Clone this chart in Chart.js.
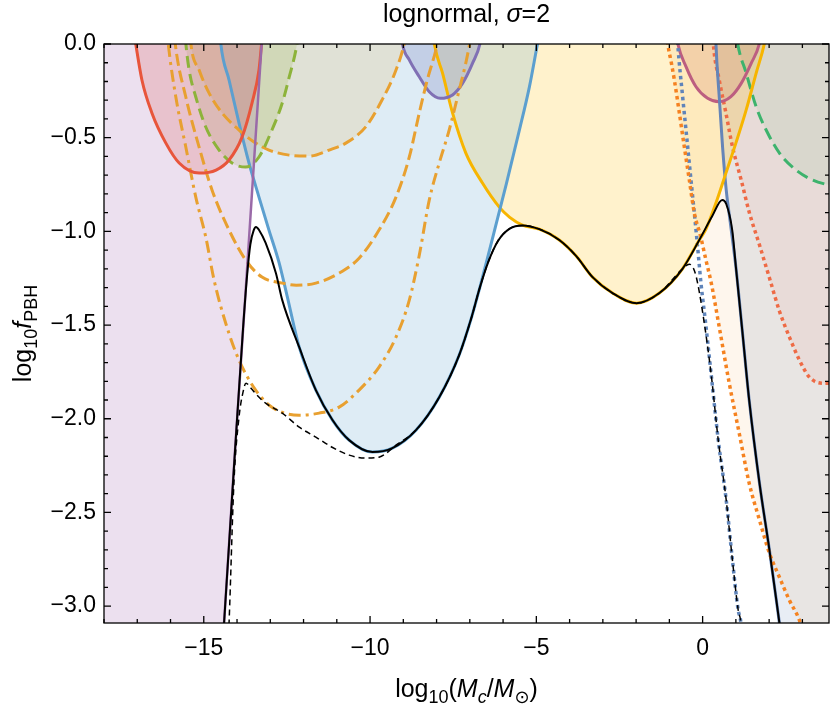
<!DOCTYPE html>
<html><head><meta charset="utf-8">
<script src="https://cdn.jsdelivr.net/npm/chart.js@4.4.1/dist/chart.umd.min.js"></script>
<style>html,body{margin:0;padding:0;background:#fff}#wrap{width:834px;height:709px}</style>
</head><body><div id="wrap"><canvas id="c" width="834" height="709"></canvas></div>
<script>
// ---- axes ----
const xMin = -18, xMax = 3.8, yMin = -3.09, yMax = 0;
const xMajorTicks = [-15, -10, -5, 0];
const xTickLabels = ['\u221215', '\u221210', '\u22125', '0'];
const yMajorTicks = [0, -0.5, -1, -1.5, -2, -2.5, -3];
const yTickLabels = ['0.0', '\u22120.5', '\u22121.0', '\u22121.5', '\u22122.0', '\u22122.5', '\u22123.0'];

// ---- curves (log10 Mc, log10 fPBH) ----
const blackX = [-14.42,-14.39,-14.06,-13.82,-13.7,-13.6,-13.5,-13.43,-13.33,-13.14,-12.83,-12.64,-12.13,-11.63,-11.13,-10.63,-9.93,-9.33,-8.62,-7.92,-7.32,-6.95,-6.7,-6.45,-6.15,-5.8,-5.42,-4.91,-4.31,-3.8,-3.31,-2.71,-1.99,-1.3,-0.61,-0.1,0.29,0.59,0.71,0.89,1.0,1.2,1.4,1.71,2.01,2.31,2.4];
const blackY = [-3.18,-3.09,-2.17,-1.52,-1.24,-1.07,-0.995,-0.977,-0.995,-1.062,-1.223,-1.367,-1.618,-1.847,-2.007,-2.114,-2.178,-2.157,-2.061,-1.885,-1.66,-1.46,-1.3,-1.165,-1.05,-0.985,-0.968,-0.988,-1.046,-1.132,-1.244,-1.329,-1.383,-1.329,-1.201,-1.046,-0.918,-0.833,-0.854,-0.993,-1.189,-1.543,-1.901,-2.344,-2.702,-3.091,-3.209];

const bdashX = [-14.27,-14.24,-14.09,-13.94,-13.82,-13.73,-13.58,-13.4,-13.14,-12.64,-12.13,-11.63,-11.14,-10.63,-10.13,-9.73,-9.22,-8.62,-7.92,-7.32,-6.95,-6.7,-6.45,-6.15,-5.8,-5.42,-4.91,-4.31,-3.8,-3.31,-2.71,-1.99,-1.3,-0.61,-0.4,-0.28,-0.19,-0.01,0.26,0.47,0.71,0.89,1.07,1.15,1.19];
const bdashY = [-3.209,-3.091,-2.328,-1.991,-1.858,-1.81,-1.837,-1.874,-1.917,-1.97,-2.045,-2.098,-2.152,-2.194,-2.21,-2.205,-2.141,-2.061,-1.885,-1.66,-1.46,-1.3,-1.165,-1.05,-0.985,-0.968,-0.988,-1.046,-1.132,-1.244,-1.329,-1.383,-1.329,-1.201,-1.175,-1.196,-1.244,-1.42,-1.767,-2.114,-2.435,-2.744,-3.022,-3.091,-3.209];

const lavX = [-18.6,-14.91,-14.39,-14.06,-13.76,-13.26,-13.1];
const lavY = [-40,-4.5,-3.09,-2.17,-1.37,0,0.45];

const redX = [-17.16,-17.05,-16.86,-16.56,-16.14,-15.74,-15.14,-14.63,-14.24,-13.85,-13.55,-13.34,-13.26,-13.19];
const redY = [0.128,0.005,-0.192,-0.368,-0.529,-0.635,-0.689,-0.673,-0.619,-0.497,-0.315,-0.139,0.005,0.128];

const greenLX = [-15.59,-15.54,-15.44,-15.24,-14.94,-14.54,-14.15,-13.74,-13.34,-12.95,-12.64,-12.43,-12.23,-12.13];
const greenLY = [0.128,0.005,-0.139,-0.283,-0.443,-0.566,-0.635,-0.657,-0.603,-0.459,-0.315,-0.176,-0.032,0.075];

const c1X = [-15.44,-15.39,-15.14,-14.84,-14.45,-13.94,-13.44,-13.04,-12.43,-11.83,-11.23,-10.73,-10.13,-9.64,-9.22,-8.97,-8.88];
const c1Y = [0.128,0.005,-0.139,-0.262,-0.368,-0.459,-0.529,-0.566,-0.593,-0.598,-0.566,-0.529,-0.442,-0.299,-0.139,0.005,0.101];

const c2X = [-15.92,-15.86,-15.54,-15.14,-14.75,-14.24,-13.74,-13.25,-12.64,-12.22,-11.63,-10.93,-10.33,-9.73,-9.22,-8.82,-8.52,-8.28,-8.02,-7.92];
const c2Y = [0.128,0.005,-0.283,-0.55,-0.78,-0.993,-1.153,-1.244,-1.276,-1.287,-1.276,-1.223,-1.143,-0.993,-0.817,-0.603,-0.368,-0.192,-0.032,0.048];

const c3X = [-16.13,-16.07,-15.84,-15.54,-15.24,-14.94,-14.69,-14.34,-13.94,-13.44,-12.95,-12.13,-11.53,-10.93,-10.33,-9.73,-9.22,-8.82,-8.52,-8.22,-7.92,-7.62,-7.32,-7.12,-7.0,-6.93];
const c3Y = [0.128,0.005,-0.283,-0.55,-0.817,-1.03,-1.26,-1.49,-1.687,-1.847,-1.938,-1.981,-1.97,-1.938,-1.847,-1.724,-1.564,-1.367,-1.127,-0.833,-0.635,-0.459,-0.246,-0.101,0.005,0.075];

const blueX = [-14.54,-14.49,-14.24,-13.94,-13.64,-13.34,-13.04,-12.74,-12.5,-12.13,-11.63,-11.13,-10.63,-9.93,-9.33,-8.62,-7.92,-7.32,-6.95,-6.7,-6.45,-6.2,-5.9,-5.51,-5.21,-4.96,-4.88];
const blueY = [0.128,0.005,-0.192,-0.422,-0.635,-0.817,-0.993,-1.164,-1.34,-1.618,-1.847,-2.007,-2.114,-2.178,-2.157,-2.061,-1.885,-1.66,-1.46,-1.3,-1.13,-0.955,-0.745,-0.46,-0.23,0.005,0.075];

const purpSX = [-9.09,-9.03,-8.82,-8.52,-8.22,-7.89,-7.52,-7.22,-6.92,-6.69,-6.63];
const purpSY = [0.101,0.005,-0.085,-0.175,-0.255,-0.29,-0.272,-0.21,-0.103,0.005,0.075];

const yellowX = [-8.13,-8.07,-7.82,-7.52,-7.12,-6.62,-6.12,-5.8,-5.42,-4.91,-4.31,-3.8,-3.31,-2.71,-1.99,-1.3,-0.61,-0.1,0.1,0.4,0.7,1.0,1.31,1.61,1.86,1.95];
const yellowY = [0.101,0.005,-0.156,-0.368,-0.582,-0.742,-0.869,-0.925,-0.966,-0.988,-1.046,-1.132,-1.244,-1.329,-1.383,-1.329,-1.201,-1.046,-0.988,-0.849,-0.689,-0.529,-0.352,-0.155,0.005,0.101];

const orDotX = [-1.12,-1.05,-0.94,-0.85,-0.7,-0.55,-0.4,-0.25,-0.07,0.1,0.26,0.5,0.8,1.1,1.4,1.71,2.01,2.31,2.61,2.91,3.09,4.6];
const orDotY = [0.128,0.005,-0.101,-0.192,-0.368,-0.55,-0.726,-0.902,-1.02,-1.153,-1.276,-1.511,-1.81,-2.077,-2.344,-2.541,-2.718,-2.846,-2.969,-3.075,-3.182,-3.8];

const blDotX = [-0.79,-0.75,-0.6,-0.5,-0.35,-0.25,-0.15,-0.05,0.08,0.26,0.47,0.71,0.89,1.07,1.15,1.19];
const blDotY = [0.128,0.005,-0.283,-0.459,-0.726,-0.902,-1.084,-1.276,-1.474,-1.767,-2.114,-2.435,-2.744,-3.022,-3.091,-3.209];

const steelX = [0.38,0.4,0.5,0.6,0.71,0.83,1.0,1.2,1.4,1.71,2.01,2.31,2.4,4.6];
const steelY = [0.128,0.005,-0.283,-0.55,-0.78,-0.95,-1.189,-1.543,-1.901,-2.344,-2.702,-3.091,-3.209,-4.0];

const mauveX = [-0.83,-0.75,-0.5,-0.2,0.15,0.5,0.85,1.16,1.46,1.71,1.8];
const mauveY = [0.101,0.005,-0.121,-0.228,-0.29,-0.308,-0.281,-0.21,-0.103,0.005,0.101];

const greenRX = [0.98,1.05,1.31,1.61,1.91,2.31,2.81,3.31,3.81,4.11];
const greenRY = [0.101,0.005,-0.156,-0.335,-0.459,-0.582,-0.673,-0.726,-0.753,-0.763];

const redDotX = [0.29,0.32,0.5,0.7,0.9,1.16,1.4,1.71,2.01,2.31,2.61,2.91,3.21,3.61,3.81,4.11];
const redDotY = [0.101,0.005,-0.192,-0.368,-0.55,-0.726,-0.897,-1.073,-1.249,-1.426,-1.564,-1.687,-1.778,-1.81,-1.81,-1.81];

// ---- text ----
const FONT = "'Liberation Sans', Arial, 'DejaVu Sans', sans-serif";
const titleParts = [{t:'lognormal, ', s:25}, {t:'\u03c3', s:25, it:true}, {t:'=2', s:25}];
const xTitleParts = [{t:'log', s:25}, {t:'10', s:18, dy:6}, {t:'(', s:25}, {t:'M', s:25, it:true}, {t:'c', s:18, it:true, dy:6}, {t:'/', s:25}, {t:'M', s:25, it:true}, {t:'\u2299', s:18, dy:6}, {t:')', s:25}];
const yTitleParts = [{t:'log', s:25}, {t:'10', s:18, dy:6}, {t:'f', s:25, it:true}, {t:'PBH', s:18, dy:6}];

const pts = (xs, ys) => xs.map((x, i) => ({x: x, y: ys[i]}));
function line(xs, ys, color, width, dash, fillColor, extra) {
  return Object.assign({
    data: pts(xs, ys), showLine: true, borderColor: color, borderWidth: width,
    borderDash: dash || [], borderCapStyle: 'butt', borderJoinStyle: 'round',
    pointRadius: 0, pointHoverRadius: 0, pointHitRadius: 0,
    fill: fillColor ? 'end' : false, backgroundColor: fillColor || 'transparent',
    cubicInterpolationMode: 'monotone'
  }, extra || {});
}

const DOT = [3.5, 3.5], DASH = [12, 5], DASHDOT = [12, 5, 3, 5];
const datasets = [
  line(blackX, blackY, '#000000', 2, null, null),
  line(bdashX, bdashY, '#000000', 1.5, [6, 4], null),
  line(lavX, lavY, '#9A6AA8', 2.5, null, 'rgba(160,100,175,0.2)', {cubicInterpolationMode: 'default', tension: 0}),
  line(redX, redY, '#E8553B', 3, null, 'rgba(232,83,58,0.22)'),
  line(greenLX, greenLY, '#8DB33A', 3, [12, 6], 'rgba(140,180,50,0.18)'),
  line(c1X, c1Y, '#E8A030', 3, DASH, 'rgba(232,160,40,0.15)'),
  line(c2X, c2Y, '#E8A030', 3, DASH, null),
  line(c3X, c3Y, '#E8A030', 3, DASHDOT, null),
  line(blueX, blueY, '#5C9FCF', 3, null, 'rgba(92,159,207,0.2)'),
  line(purpSX, purpSY, '#8070B4', 3, null, 'rgba(120,110,185,0.25)'),
  line(yellowX, yellowY, '#F7B500', 3, null, 'rgba(255,190,0,0.2)'),
  line(orDotX, orDotY, '#F58220', 3.5, DOT, 'rgba(247,135,30,0.08)'),
  line(blDotX, blDotY, '#5F84BA', 3.5, DOT, null),
  line(steelX, steelY, '#6585B8', 3, null, 'rgba(100,135,185,0.15)'),
  line(mauveX, mauveY, '#BC5E80', 3, null, 'rgba(186,93,126,0.22)'),
  line(greenRX, greenRY, '#3DB36D', 3, [12, 6], 'rgba(60,180,110,0.1)'),
  line(redDotX, redDotY, '#EE6A45', 3.5, DOT, 'rgba(238,106,69,0.08)')
];

function fontStr(p) { return (p.it ? 'italic ' : '') + p.s + 'px ' + FONT; }
function drawRich(ctx, parts, cx, cy, rot) {
  ctx.save(); ctx.translate(cx, cy); ctx.rotate(rot);
  let w = 0;
  parts.forEach(p => { ctx.font = fontStr(p); p.w = ctx.measureText(p.t).width; w += p.w; });
  let x = -w / 2;
  ctx.fillStyle = '#000'; ctx.textBaseline = 'alphabetic'; ctx.textAlign = 'left';
  parts.forEach(p => { ctx.font = fontStr(p); ctx.fillText(p.t, x, p.dy || 0); x += p.w; });
  ctx.restore();
}

const framePlugin = {
  id: 'frame',
  afterDatasetsDraw(chart) {
    const ctx = chart.ctx, ca = chart.chartArea, xs = chart.scales.x, ys = chart.scales.y;
    ctx.save();
    ctx.strokeStyle = '#000'; ctx.lineWidth = 1.3;
    ctx.beginPath();
    for (let v = Math.ceil(xMin); v <= Math.floor(xMax); v++) {
      const px = xs.getPixelForValue(v), L = (v % 5 === 0) ? 7 : 4;
      ctx.moveTo(px, ca.bottom); ctx.lineTo(px, ca.bottom - L);
      ctx.moveTo(px, ca.top); ctx.lineTo(px, ca.top + L);
    }
    for (let k = 0; k <= 30; k++) {
      const py = ys.getPixelForValue(-k / 10), L = (k % 5 === 0) ? 7 : 4;
      ctx.moveTo(ca.left, py); ctx.lineTo(ca.left + L, py);
      ctx.moveTo(ca.right, py); ctx.lineTo(ca.right - L, py);
    }
    ctx.stroke();
    ctx.strokeRect(ca.left, ca.top, ca.right - ca.left, ca.bottom - ca.top);
    ctx.restore();
  },
  afterDraw(chart) {
    const ctx = chart.ctx, ca = chart.chartArea;
    const cx = (ca.left + ca.right) / 2;
    drawRich(ctx, titleParts, cx, 22, 0);
    drawRich(ctx, xTitleParts, cx, 697, 0);
    drawRich(ctx, yTitleParts, 31, (ca.top + ca.bottom) / 2, -Math.PI / 2);
  }
};

Chart.defaults.font.family = FONT;
new Chart(document.getElementById('c'), {
  type: 'scatter',
  data: { datasets: datasets },
  options: {
    responsive: false, animation: false, devicePixelRatio: 1,
    layout: { padding: { top: 44, right: 5, left: 0, bottom: 0 } },
    elements: { line: { capBezierPoints: false } },
    plugins: { legend: { display: false }, tooltip: { enabled: false }, title: { display: false },
      filler: { drawTime: 'beforeDatasetsDraw', propagate: false } },
    scales: {
      x: {
        type: 'linear', position: 'bottom', min: xMin, max: xMax,
        afterBuildTicks: s => { s.ticks = xMajorTicks.map(v => ({value: v})); },
        afterFit: s => { s.height = 86; },
        grid: { display: false, drawTicks: false }, border: { display: false },
        ticks: { callback: (v, i) => xTickLabels[i], color: '#000', font: { size: 23 }, padding: 12, maxRotation: 0, autoSkip: false }
      },
      y: {
        type: 'linear', position: 'left', min: yMin, max: yMax,
        afterBuildTicks: s => { s.ticks = yMajorTicks.map(v => ({value: v})); },
        afterFit: s => { s.width = 104; },
        grid: { display: false, drawTicks: false }, border: { display: false },
        ticks: { callback: (v, i) => yTickLabels[i], color: '#000', font: { size: 23 }, padding: 8, autoSkip: false }
      }
    }
  },
  plugins: [framePlugin]
});
</script></body></html>
